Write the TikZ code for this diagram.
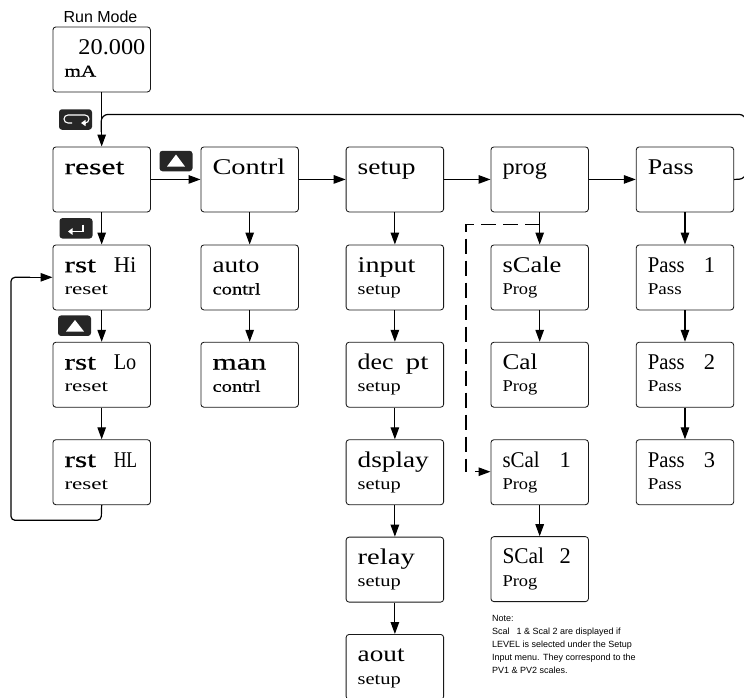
\documentclass[tikz,border=0pt]{standalone}
\usepackage{fontspec}
\setmainfont{Liberation Serif}
\newfontfamily\sansf{Liberation Sans}
\newfontfamily\semib[FakeBold=0.5]{Liberation Serif}
\newfontfamily\lightb[FakeBold=0.2]{Liberation Serif}
\usetikzlibrary{arrows.meta}
\newcommand{\sx}[2]{\scalebox{#1}[1]{#2}}
\newcommand{\lead}[2]{\makebox[#1pt][l]{#2}}
\tikzset{
 x=1pt,y=-1pt,
 panel/.style={draw=black!90,line width=0.85pt,rounded corners=3pt,minimum width=97.5pt,minimum height=65pt,inner sep=0pt,anchor=north west},
 big/.style={anchor=base west,inner sep=0pt,font=\fontsize{22.5}{22.5}\selectfont},
 small/.style={anchor=base west,inner sep=0pt,font=\fontsize{16.5}{16.5}\selectfont},
 link/.style={line width=1.2pt,-{Triangle[length=12pt,width=8.5pt]}},
 plain/.style={line width=1.2pt,rounded corners=4pt},
 key/.style={fill=black!85,rounded corners=3pt,minimum width=33pt,minimum height=20.5pt,inner sep=0pt,anchor=center},
 keytext/.style={white,line width=1.1pt},
}
\newcommand{\panelbox}[5]{%
 \node[panel] (#1) at (#2,#3) {};
 \node[big] (#1t) at (#2+11.8,#3+27.7) {#4};
 \node[small] (#1s) at (#2+11.8,#3+50) {#5};
}
\begin{document}
\begin{tikzpicture}
\useasboundingbox (0,0) rectangle (744,697);
\clip (0,0) rectangle (744,697);
\node[anchor=base,inner sep=0pt,font=\sansf\fontsize{16}{16}\selectfont] (runlab) at (100.5,22) {Run Mode};
\node[panel] (run) at (52.5,26.5) {};
\node[big,anchor=base east] (runv) at (145.5,54) {\sx{1.08}{20.000}};
\node[small] (runu) at (64.3,76.5) {\sx{1.28}{\lightb mA}};

\panelbox{reset}{52.5}{146.5}{\sx{1.41}{\lightb reset}}{}
\panelbox{contrl}{200.5}{146.5}{\sx{1.265}{Contrl}}{}
\panelbox{setup}{345.7}{146.5}{\sx{1.22}{setup}}{}
\panelbox{prog}{490.5}{146.5}{\sx{1.08}{prog}}{}
\panelbox{pass}{635.8}{146.5}{\sx{1.15}{Pass}}{}

\panelbox{hi}{52.5}{244.5}{\lead{49.3}{\sx{1.4}{\semib rst}}Hi}{\sx{1.4}{reset}}
\panelbox{lo}{52.5}{341.8}{\lead{49.3}{\sx{1.4}{\semib rst}}\sx{0.9}{Lo}}{\sx{1.4}{reset}}
\panelbox{hl}{52.5}{439.3}{\lead{49.3}{\sx{1.4}{\semib rst}}\sx{0.78}{HL}}{\sx{1.4}{reset}}

\panelbox{auto}{200.5}{244.5}{\sx{1.21}{auto}}{\sx{1.25}{\lightb contrl}}
\panelbox{man}{200.5}{341.8}{\sx{1.39}{\lightb man}}{\sx{1.25}{\lightb contrl}}

\panelbox{input}{345.7}{244.5}{\sx{1.25}{input}}{\sx{1.24}{setup}}
\panelbox{dec}{345.7}{341.8}{\lead{48}{\sx{1.15}{dec}}\sx{1.3}{pt}}{\sx{1.24}{setup}}
\panelbox{dsp}{345.7}{439.3}{\sx{1.21}{dsplay}}{\sx{1.24}{setup}}
\panelbox{relay}{345.7}{536.7}{\sx{1.27}{relay}}{\sx{1.24}{setup}}
\panelbox{aout}{345.7}{634}{\sx{1.21}{aout}}{\sx{1.24}{setup}}

\panelbox{scale}{490.5}{244.5}{\sx{1.18}{sCale}}{\sx{1.12}{Prog}}
\panelbox{cal}{490.5}{341.8}{\sx{1.12}{Cal}}{\sx{1.12}{Prog}}
\panelbox{scaa}{490.5}{439.3}{\lead{57}{\sx{0.93}{sCal}}1}{\sx{1.12}{Prog}}
\panelbox{scab}{490.5}{536.2}{\lead{57}{\sx{0.95}{SCal}}2}{\sx{1.12}{Prog}}

\panelbox{pa}{635.8}{244.5}{\lead{56}{\sx{0.92}{Pass}}1}{\sx{1.16}{Pass}}
\panelbox{pb}{635.8}{341.8}{\lead{56}{\sx{0.92}{Pass}}2}{\sx{1.16}{Pass}}
\panelbox{pc}{635.8}{439.3}{\lead{56}{\sx{0.92}{Pass}}3}{\sx{1.16}{Pass}}

% connectors
\draw[link] (run) -- (reset);
\draw[link] (reset) -- (hi);
\draw[link] (hi) -- (lo);
\draw[link] (lo) -- (hl);
\draw[link] (contrl) -- (auto);
\draw[link] (auto) -- (man);
\draw[link] (setup) -- (input);
\draw[link] (input) -- (dec);
\draw[link] (dec) -- (dsp);
\draw[link] (dsp) -- (relay);
\draw[link] (relay) -- (aout);
\draw[link] (prog) -- (scale);
\draw[link] (scale) -- (cal);
\draw[link] (scaa) -- (scab);
\draw[link] (pass) -- (pa);
\draw[link] (pa) -- (pb);
\draw[link] (pb) -- (pc);
\draw[link] (reset) -- (contrl);
\draw[link] (contrl) -- (setup);
\draw[link] (setup) -- (prog);
\draw[link] (prog) -- (pass);
\draw[line width=1.2pt,rounded corners=7pt] (pass.east) -- (746,179) -- (746,114.4) -- (101.2,114.4) -- (101.2,132);
\draw[plain] (hl.south) -- (101.2,520.3) -- (11,520.3) -- (11,277.3) -- (30,277.3);
\coordinate (hiw) at (hi.west |- 0,277.3);
\draw[link] (30,277.3) -- (hiw);
\coordinate (dashs) at (prog.south |- 0,224.4);
\draw[line width=1.2pt,dash pattern=on 15pt off 7pt] (dashs) -- (466,224.4) -- (466,471.7);
\coordinate (scaw) at (scaa.west |- 0,471.7);
\draw[link] (475,471.7) -- (scaw);

% key icons
\node[key] (k1) at (75.5,119.5) {};
\draw[keytext] (72,123) -- (68,123) arc[start angle=90,end angle=270,radius=4] -- (85,115) arc[start angle=-90,end angle=90,radius=4];
\draw[keytext,-{Triangle[length=4.5pt,width=6pt]}] (85,123) -- (81,123);
\node[key] (k2) at (76,228.3) {};
\draw[keytext,-{Triangle[length=4.5pt,width=6.5pt]}] (83,224.5) -- (83,231.5) -- (68,231.5);
\node[key] (k3) at (176,161) {};
\fill[white] (167,166.5) -- (176,154.5) -- (185,166.5) -- cycle;
\node[key] (k4) at (74.5,325.7) {};
\fill[white] (66,331.5) -- (75,320) -- (84,331.5) -- cycle;

% note
\node[anchor=north west,inner sep=0pt,align=left,font=\sansf\fontsize{9}{12.9}\selectfont] (note) at (492,615)
 {Note:\\Scal\hspace{0.5em} 1 \& Scal 2 are displayed if\\LEVEL is selected under the Setup\\Input menu. They correspond to the\\PV1 \& PV2 scales.};
\end{tikzpicture}
\end{document}
